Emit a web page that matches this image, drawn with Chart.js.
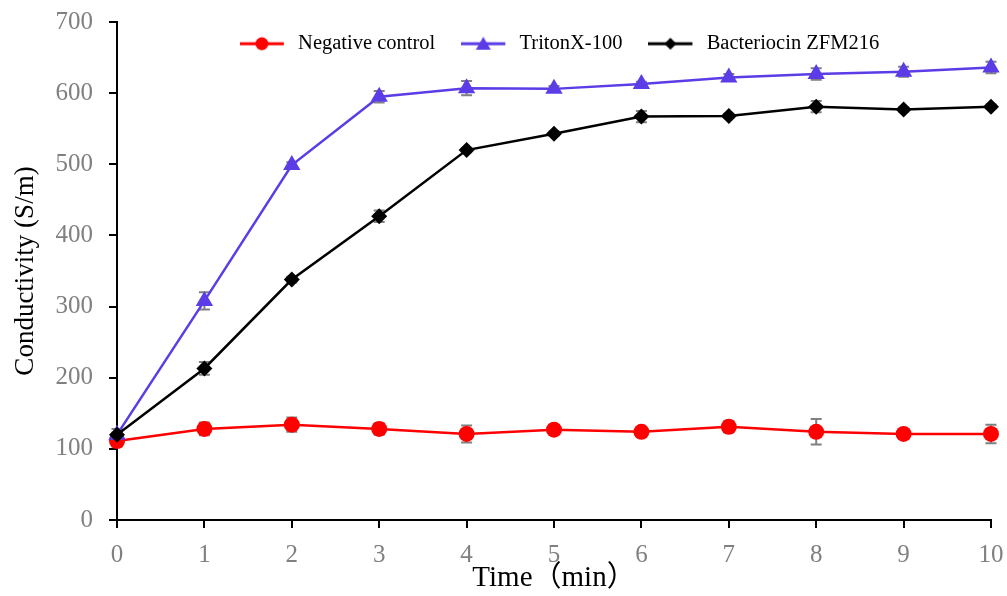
<!DOCTYPE html>
<html>
<head>
<meta charset="utf-8">
<script src="https://cdn.jsdelivr.net/npm/chart.js@4.4.1/dist/chart.umd.min.js"></script>
<style>
html,body{margin:0;padding:0;background:#fff;}
#wrap{width:1007px;height:596px;position:relative;}
</style>
</head>
<body>
<div id="wrap"><canvas id="c" width="1007" height="596"></canvas></div>
<script>
const timeLabels = ['0','1','2','3','4','5','6','7','8','9','10'];
const negativeControl = [111, 128, 134, 128, 121, 127, 124, 131, 124, 121, 121];
const negativeErr     = [8, 9, 10, 8, 12, 4, 6, 8, 18, 4, 13];
const tritonX100      = [120, 308, 499, 595, 607, 606, 613, 622, 627, 630, 636];
const tritonErr       = [8, 12, 4, 8, 10, 4, 3, 5, 8, 7, 8];
const bacteriocin     = [120, 213, 338, 427, 520, 543, 567, 568, 581, 577, 581];
const bacteriocinErr  = [3, 9, 4, 8, 3, 3, 8, 3, 8, 3, 3];
const yTicks = [0, 100, 200, 300, 400, 500, 600, 700];

const SERIF = '"Liberation Serif", "Times New Roman", "Noto Sans CJK SC", serif';

function legendIcon(color, style) {
  const cv = document.createElement('canvas');
  cv.width = 48; cv.height = 16;
  const g = cv.getContext('2d');
  g.strokeStyle = color; g.lineWidth = 3;
  g.beginPath(); g.moveTo(0, 8); g.lineTo(44, 8); g.stroke();
  g.fillStyle = color;
  g.beginPath();
  if (style === 'circle') { g.arc(22, 8, 6.5, 0, Math.PI * 2); }
  else if (style === 'triangle') { g.moveTo(22, 1); g.lineTo(29.5, 14); g.lineTo(14.5, 14); g.closePath(); }
  else { g.moveTo(22, 2); g.lineTo(28, 8); g.lineTo(22, 14); g.lineTo(16, 8); g.closePath(); }
  g.fill();
  return cv;
}

const errorBarPlugin = {
  id: 'errorBars',
  beforeDatasetsDraw(chart) {
    const ctx = chart.ctx;
    const ys = chart.scales.y;
    ctx.save();
    ctx.strokeStyle = '#808080';
    ctx.lineWidth = 2;
    chart.data.datasets.forEach((ds, i) => {
      const meta = chart.getDatasetMeta(i);
      meta.data.forEach((pt, j) => {
        const v = ds.data[j], e = ds.errors[j];
        const x = pt.x;
        const yTop = ys.getPixelForValue(v + e);
        const yBot = ys.getPixelForValue(v - e);
        ctx.beginPath();
        ctx.moveTo(x, yTop); ctx.lineTo(x, yBot);
        ctx.moveTo(x - 5.5, yTop); ctx.lineTo(x + 5.5, yTop);
        ctx.moveTo(x - 5.5, yBot); ctx.lineTo(x + 5.5, yBot);
        ctx.stroke();
      });
    });
    ctx.restore();
  }
};

// move the legend row down into the plot area (like the reference)
const legendShift = {
  id: 'legendShift',
  afterLayout(chart) {
    const lg = chart.legend;
    if (lg) {
      lg.top = 7.5; lg.bottom = 75; lg.height = lg.bottom - lg.top;
      lg.left += 64; lg.right += 64;
    }
  }
};

const icons = [legendIcon('#ff0000', 'circle'), legendIcon('#5b3ce6', 'triangle'), legendIcon('#000000', 'diamond')];

new Chart(document.getElementById('c'), {
  type: 'line',
  data: {
    labels: timeLabels,
    datasets: [
      {
        label: 'Negative control', data: negativeControl, errors: negativeErr,
        borderColor: '#ff0000', backgroundColor: '#ff0000', borderWidth: 2.5,
        pointStyle: 'circle', pointRadius: 8, pointBorderWidth: 0, order: 3
      },
      {
        label: 'TritonX-100', data: tritonX100, errors: tritonErr,
        borderColor: '#5b3ce6', backgroundColor: '#5b3ce6', borderWidth: 2.5,
        pointStyle: 'triangle', pointRadius: 10, pointBorderWidth: 0, order: 2
      },
      {
        label: 'Bacteriocin ZFM216', data: bacteriocin, errors: bacteriocinErr,
        borderColor: '#000000', backgroundColor: '#000000', borderWidth: 2.5,
        pointStyle: 'rectRot', pointRadius: 8, pointBorderWidth: 0, order: 1
      }
    ]
  },
  options: {
    responsive: false,
    animation: false,
    layout: { padding: { top: 0, right: 16, left: 0, bottom: 0 } },
    plugins: {
      tooltip: { enabled: false },
      legend: {
        position: 'top',
        align: 'center',
        maxHeight: 22,
        labels: {
          usePointStyle: true,
          pointStyleWidth: 48,
          boxHeight: 16,
          padding: 26,
          color: '#000',
          font: { family: SERIF, size: 20.5 },
          sort: (a, b) => a.datasetIndex - b.datasetIndex,
          generateLabels(chart) {
            return chart.data.datasets.map((ds, i) => ({
              text: ds.label, datasetIndex: i, pointStyle: icons[i],
              fillStyle: ds.backgroundColor, strokeStyle: ds.borderColor,
              lineWidth: 0, hidden: false, fontColor: '#000'
            }));
          }
        }
      }
    },
    scales: {
      x: {
        type: 'category',
        offset: false,
        grid: { drawOnChartArea: false, drawTicks: true, tickLength: 8, color: '#000', lineWidth: 2 },
        border: { color: '#000', width: 2 },
        ticks: { color: '#808080', font: { family: SERIF, size: 25 }, padding: 12, maxRotation: 0 },
        title: { display: true, text: 'Time（min）', color: '#000', font: { family: SERIF, size: 29 }, padding: { top: 0, bottom: 0 } },
        afterFit(scale) { scale.height = 76; scale.paddingRight = 0; scale.paddingLeft = 0; }
      },
      y: {
        min: 0, max: 700,
        afterBuildTicks(scale) { scale.ticks = yTicks.map(v => ({ value: v })); },
        grid: { drawOnChartArea: false, drawTicks: true, tickLength: 8, color: '#000', lineWidth: 2 },
        border: { color: '#000', width: 2 },
        ticks: { color: '#808080', font: { family: SERIF, size: 25 }, padding: 16 },
        title: { display: true, text: 'Conductivity (S/m)', color: '#000', font: { family: SERIF, size: 27 }, padding: { top: 10, bottom: 0 } },
        afterFit(scale) { scale.width = 117; scale.paddingTop = 0; scale.paddingBottom = 0; }
      }
    }
  },
  plugins: [errorBarPlugin, legendShift]
});
</script>
</body>
</html>
